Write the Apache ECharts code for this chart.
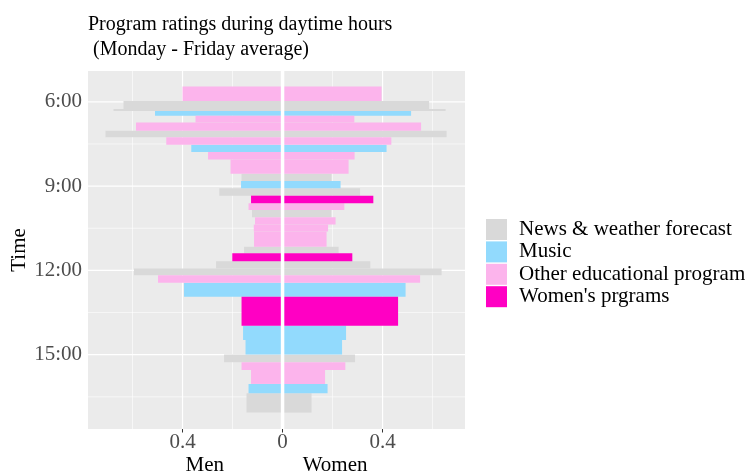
<!DOCTYPE html>
<html>
<head>
<meta charset="utf-8">
<script src="https://cdn.jsdelivr.net/npm/echarts@6/dist/echarts.min.js"></script>
<style>html,body{margin:0;padding:0;background:#fff}</style>
</head>
<body>
<div id="main" style="width:748px;height:475px"></div>
<script>
var programTypes = ['News & weather forecast', 'Music', 'Other educational program', "Women's prgrams"];
var typeColors = ['#D9D9D9', '#92DAFD', '#FCB4EC', '#FF00C3'];

// each slot: start / end (hours), programme type index, men and women rating
var slotStart = [5.46, 5.97, 6.26, 6.33, 6.50, 6.74, 7.03, 7.26, 7.53, 7.79, 8.05, 8.56, 8.82, 9.08, 9.34, 9.61, 9.85,
  10.11, 10.37, 10.62, 11.16, 11.39, 11.67, 11.93, 12.17, 12.44, 12.94, 13.97, 14.48, 14.99, 15.27, 15.54, 16.04, 16.37];
var slotEnd = [5.97, 6.26, 6.33, 6.50, 6.74, 7.03, 7.26, 7.53, 7.79, 8.05, 8.56, 8.82, 9.08, 9.34, 9.61, 9.85, 10.11,
  10.37, 10.62, 11.16, 11.39, 11.67, 11.93, 12.17, 12.44, 12.94, 13.97, 14.48, 14.99, 15.27, 15.54, 16.04, 16.37, 17.06];
var slotType = [2, 0, 0, 1, 2, 2, 0, 2, 1, 2, 2, 0, 1, 0, 3, 2, 0, 2, 2, 2, 0, 3, 0, 0, 2, 1, 3, 1, 1, 0, 2, 2, 1, 0];
var menRating = [0.40, 0.636, 0.676, 0.51, 0.348, 0.586, 0.708, 0.465, 0.365, 0.298, 0.208, 0.164, 0.166, 0.253, 0.126, 0.136, 0.122,
  0.110, 0.115, 0.114, 0.154, 0.201, 0.266, 0.594, 0.498, 0.394, 0.164, 0.158, 0.148, 0.234, 0.164, 0.126, 0.136, 0.144];
var womenRating = [0.396, 0.586, 0.652, 0.514, 0.287, 0.554, 0.656, 0.435, 0.416, 0.288, 0.264, 0.196, 0.232, 0.31, 0.363, 0.247, 0.195,
  0.212, 0.182, 0.176, 0.224, 0.279, 0.351, 0.636, 0.55, 0.492, 0.462, 0.254, 0.238, 0.29, 0.251, 0.17, 0.18, 0.116];

var timeTicks = [6, 9, 12, 15];
var timeMinor = [7.5, 10.5, 13.5, 16.5];
var ratingTicks = [-0.4, 0, 0.4];
var ratingMinor = [-0.6, -0.2, 0.2, 0.6];

var serif = 'Liberation Serif';
var chart = echarts.init(document.getElementById('main'));

function renderBar(params, api) {
  var top = api.value(0), bottom = api.value(1);
  var a = api.coord([-api.value(2), top]);
  var b = api.coord([0, bottom]);
  var c = api.coord([api.value(3), top]);
  var fill = api.visual('color');
  return {type: 'group', children: [
    {type: 'rect', shape: {x: a[0], y: a[1], width: b[0] - a[0], height: b[1] - a[1]}, style: {fill: fill}},
    {type: 'rect', shape: {x: b[0], y: a[1], width: c[0] - b[0], height: b[1] - a[1]}, style: {fill: fill}}
  ]};
}

// gridlines: [0 = vertical / 1 = horizontal, value, width]
function renderGrid(params, api) {
  var cs = params.coordSys;
  var w = api.value(2);
  if (api.value(0) === 0) {
    var x = api.coord([api.value(1), 12])[0];
    return {type: 'line', shape: {x1: x, y1: cs.y, x2: x, y2: cs.y + cs.height}, style: {stroke: '#fff', lineWidth: w}};
  }
  var y = api.coord([0, api.value(1)])[1];
  return {type: 'line', shape: {x1: cs.x, y1: y, x2: cs.x + cs.width, y2: y}, style: {stroke: '#fff', lineWidth: w}};
}

var gridData = [];
ratingMinor.forEach(function (v) { gridData.push([0, v, 0.6]); });
timeMinor.forEach(function (v) { gridData.push([1, v, 0.6]); });
ratingTicks.forEach(function (v) { gridData.push([0, v, 1.2]); });
timeTicks.forEach(function (v) { gridData.push([1, v, 1.2]); });

var series = [{
  name: 'grid',
  type: 'custom',
  renderItem: renderGrid,
  data: gridData,
  silent: true,
  z: 1
}];
programTypes.forEach(function (name, k) {
  var rows = [];
  for (var i = 0; i < slotStart.length; i++) {
    if (slotType[i] === k) rows.push([slotStart[i], slotEnd[i], menRating[i], womenRating[i]]);
  }
  series.push({
    name: name,
    type: 'custom',
    renderItem: renderBar,
    itemStyle: {color: typeColors[k]},
    data: rows,
    z: 2
  });
});
series.push({
  name: 'centre',
  type: 'custom',
  renderItem: renderGrid,
  data: [[0, 0, 3.5]],
  silent: true,
  z: 3
});

chart.setOption({
  animation: false,
  title: {
    text: 'Program ratings during daytime hours\n (Monday - Friday average)',
    left: 88,
    top: 12,
    padding: 0,
    textStyle: {fontFamily: serif, fontSize: 20, fontWeight: 'normal', color: '#000', lineHeight: 25}
  },
  legend: {
    data: programTypes,
    orient: 'vertical',
    left: 486,
    top: 219,
    padding: 0,
    icon: 'rect',
    itemWidth: 21,
    itemHeight: 21,
    itemGap: 1.4,
    textStyle: {fontFamily: serif, fontSize: 21, color: '#000', padding: [0, 0, 0, 7]}
  },
  grid: {
    left: 88, right: 283, top: 71, bottom: 46,
    outerBoundsMode: 'none',
    show: true, backgroundColor: '#EBEBEB', borderWidth: 0
  },
  xAxis: {
    type: 'value',
    min: -0.778,
    max: 0.7296,
    name: 'Men               Women',
    nameLocation: 'middle',
    nameGap: 26,
    nameMoveOverlap: false,
    nameTextStyle: {fontFamily: serif, fontSize: 21, color: '#000'},
    axisLine: {show: false},
    splitLine: {show: false},
    axisTick: {customValues: ratingTicks, length: 3.5, lineStyle: {color: '#333'}},
    axisLabel: {
      customValues: ratingTicks,
      margin: 3,
      fontFamily: serif, fontSize: 21, color: '#4D4D4D',
      formatter: function (v) { return String(Math.abs(v)); }
    }
  },
  yAxis: {
    type: 'value',
    inverse: true,
    min: 4.904,
    max: 17.644,
    name: 'Time',
    nameLocation: 'middle',
    nameRotate: 90,
    nameGap: 58,
    nameMoveOverlap: false,
    nameTextStyle: {fontFamily: serif, fontSize: 21, color: '#000'},
    axisLine: {show: false},
    splitLine: {show: false},
    axisTick: {customValues: timeTicks, length: 3.5, lineStyle: {color: '#333'}},
    axisLabel: {
      customValues: timeTicks,
      margin: 6,
      fontFamily: serif, fontSize: 21, color: '#4D4D4D',
      formatter: function (v) { return v + ':00'; }
    }
  },
  series: series
});
</script>
</body>
</html>
